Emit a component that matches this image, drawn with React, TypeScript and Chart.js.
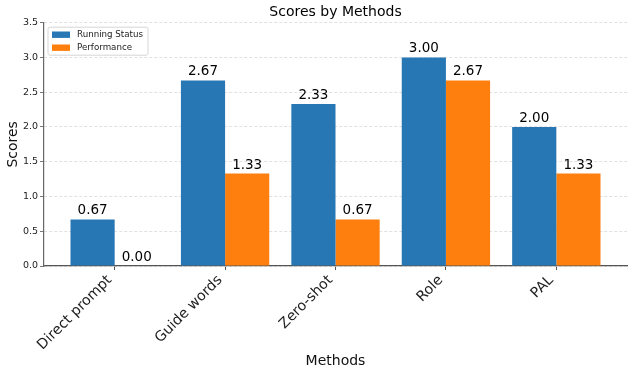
import React, { useEffect, useRef } from 'react';
import { Chart, registerables } from 'chart.js';

Chart.register(...registerables);

const methods = ['Direct prompt', 'Guide words', 'Zero-shot', 'Role', 'PAL'];
const runningStatus = [0.67, 2.67, 2.33, 3.0, 2.0];
const performance = [0.0, 1.33, 0.67, 2.67, 1.33];
const seriesNames = ['Running Status', 'Performance'];
const seriesColors = ['#2677b4', '#ff7f0e'];
const yTicks = [0, 0.5, 1, 1.5, 2, 2.5, 3, 3.5];
const chartTitle = 'Scores by Methods';
const xTitle = 'Methods';
const yTitle = 'Scores';

const FONT = "'DejaVu Sans', sans-serif";

const overlay = {
  id: 'overlay',
  afterDatasetsDraw(chart: any) {
    const ctx = chart.ctx as CanvasRenderingContext2D;
    const area = chart.chartArea;
    ctx.save();
    // value labels
    ctx.font = `13.5px ${FONT}`;
    ctx.fillStyle = '#000';
    ctx.textAlign = 'center';
    ctx.textBaseline = 'alphabetic';
    chart.data.datasets.forEach((ds: any, di: number) => {
      const meta = chart.getDatasetMeta(di);
      meta.data.forEach((bar: any, i: number) => {
        const v = ds.data[i].y as number;
        ctx.fillText(v.toFixed(2), bar.x, bar.y - 5);
      });
    });
    // title
    ctx.font = `14px ${FONT}`;
    ctx.textBaseline = 'middle';
    ctx.fillText(chartTitle, (area.left + area.right) / 2, 12.5);
    // legend
    const lx = area.left + 4;
    const ly = area.top + 4.5;
    const lw = 100;
    const lh = 28;
    ctx.beginPath();
    const r = 2;
    ctx.moveTo(lx + r, ly);
    ctx.lineTo(lx + lw - r, ly);
    ctx.quadraticCurveTo(lx + lw, ly, lx + lw, ly + r);
    ctx.lineTo(lx + lw, ly + lh - r);
    ctx.quadraticCurveTo(lx + lw, ly + lh, lx + lw - r, ly + lh);
    ctx.lineTo(lx + r, ly + lh);
    ctx.quadraticCurveTo(lx, ly + lh, lx, ly + lh - r);
    ctx.lineTo(lx, ly + r);
    ctx.quadraticCurveTo(lx, ly, lx + r, ly);
    ctx.closePath();
    ctx.fillStyle = 'rgba(255,255,255,0.85)';
    ctx.fill();
    ctx.strokeStyle = '#d6d6d6';
    ctx.lineWidth = 1;
    ctx.stroke();
    ctx.font = `8.7px ${FONT}`;
    ctx.textAlign = 'left';
    ctx.textBaseline = 'middle';
    chart.data.datasets.forEach((ds: any, di: number) => {
      const rowY = ly + 7.5 + di * 13;
      ctx.fillStyle = ds.backgroundColor;
      ctx.fillRect(lx + 4, rowY - 3.2, 18, 6.4);
      ctx.fillStyle = '#222';
      ctx.fillText(ds.label, lx + 29, rowY + 0.3);
    });
    ctx.restore();
  },
};

export default function App() {
  const canvasRef = useRef<HTMLCanvasElement | null>(null);

  useEffect(() => {
    document.body.style.margin = '0';
    const canvas = canvasRef.current;
    if (!canvas) return;
    const series = [runningStatus, performance];
    const chart = new Chart(canvas, {
      type: 'bar',
      data: {
        datasets: series.map((vals, si) => ({
          label: seriesNames[si],
          data: vals.map((v, i) => ({ x: i, y: v })),
          backgroundColor: seriesColors[si],
          borderWidth: 0,
          categoryPercentage: 0.8,
          barPercentage: 1.0,
        })),
      },
      options: {
        responsive: false,
        animation: false,
        devicePixelRatio: 1,
        layout: { padding: { left: 0, right: 6, top: 22.7, bottom: 0 } },
        plugins: {
          legend: { display: false },
          tooltip: { enabled: false },
          title: { display: false },
        },
        scales: {
          x: {
            type: 'linear',
            position: 'bottom',
            min: -0.64,
            max: 4.64,
            bounds: 'data',
            offset: false,
            afterBuildTicks: (scale: any) => {
              scale.ticks = methods.map((_, i) => ({ value: i }));
            },
            afterFit: (scale: any) => {
              scale.height = 109;
            },
            ticks: {
              autoSkip: false,
              minRotation: 45,
              maxRotation: 45,
              padding: 2,
              labelOffset: -5,
              color: '#222',
              font: { family: FONT, size: 14.2 },
              callback: (v: any) => methods[Math.round(Number(v))] ?? '',
            },
            grid: {
              display: true,
              drawOnChartArea: false,
              drawTicks: true,
              tickLength: 4,
              tickColor: '#555',
              offset: false,
            },
            border: { display: true, color: '#555', width: 1.2 },
            title: {
              display: true,
              text: xTitle,
              color: '#111',
              font: { family: FONT, size: 14 },
              padding: { top: 0, bottom: 5.2 },
            },
          },
          y: {
            type: 'linear',
            min: 0,
            max: 3.5,
            afterBuildTicks: (scale: any) => {
              scale.ticks = yTicks.map((v) => ({ value: v }));
            },
            afterFit: (scale: any) => {
              scale.width = 44;
            },
            ticks: {
              padding: 2,
              color: '#222',
              font: { family: FONT, size: 9.5 },
              callback: (v: any) => Number(v).toFixed(1),
            },
            grid: {
              color: '#d9d9d9',
              lineWidth: 0.8,
              drawTicks: true,
              tickLength: 4,
              tickColor: '#555',
            },
            border: { display: true, color: '#666', width: 1.2, dash: [3, 2] },
            title: {
              display: true,
              text: yTitle,
              color: '#111',
              font: { family: FONT, size: 14 },
              padding: { top: 4.5, bottom: 0 },
            },
          },
        },
      },
      plugins: [overlay],
    } as any);
    return () => chart.destroy();
  }, []);

  return (
    <div style={{ width: 633, height: 375 }}>
      <canvas ref={canvasRef} width={633} height={375} />
    </div>
  );
}
